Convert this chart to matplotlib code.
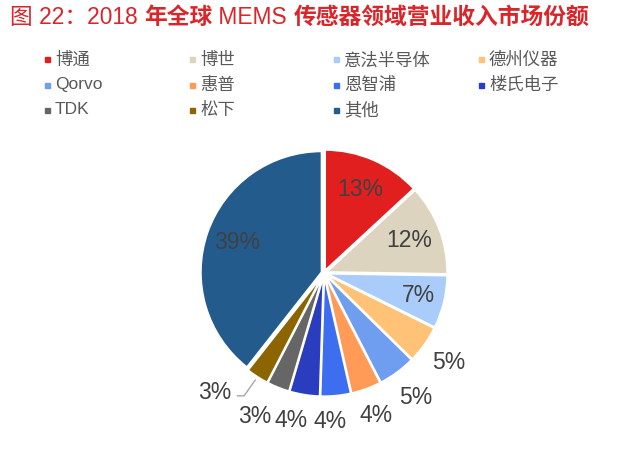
import numpy as np
import matplotlib.pyplot as plt
from matplotlib.patches import Rectangle

plt.rcParams['font.family'] = ['Liberation Sans', 'Noto Sans CJK SC', 'DejaVu Sans']

# data
companies = ['博通', '博世', '意法半导体', '德州仪器', 'Qorvo', '惠普',
             '恩智浦', '楼氏电子', 'TDK', '松下', '其他']
shares = [13, 12, 7, 5, 5, 4, 4, 4, 3, 3, 39]
colors = ['#E21F1F', '#DDD4BF', '#A9CCFA', '#FFC276', '#6F9DF0', '#FF9A57',
          '#3D6EF0', '#2A3DBE', '#666666', '#8C6500', '#245B8D']

# title runs: Latin parts regular, Chinese parts bold
title_parts = [('图 22：2018 ', 'normal'), ('年全球', 'bold'), (' MEMS ', 'normal'),
               ('传感器领域营业收入市场份额', 'bold')]

# label placement per slice (inside for big ones, outside for small ones)
label_r = [0.75, 0.75, 0.80, 1.27, 1.28, 1.25, 1.23, 1.25, 1.32, 1.40, 0.76]
label_da = [0, 0, 0, 0, 0, 0, -3, -3.5, -4, 0, 0]

fig = plt.figure(figsize=(6.4, 4.57), dpi=100)
W, H = 640, 457

# legend, laid out as a 4-column grid
col_x = [47, 192, 336, 481]
row_y = [60, 85, 110]
for i, (name, c) in enumerate(zip(companies, colors)):
    lx = col_x[i % 4]
    ly = row_y[i // 4]
    fig.patches.append(Rectangle(((lx - 2.5) / W, 1 - (ly + 2.5) / H), 5 / W, 5 / H,
                                 transform=fig.transFigure, color=c, figure=fig))
    fig.text((lx + 8) / W, 1 - ly / H, name, color='#595959', fontsize=12.5,
             va='center', ha='left')

# pie
cx, cy, r = 324, 273, 121
ax = fig.add_axes([(cx - 1.5 * r) / W, (H - cy - 1.5 * r) / H, 3 * r / W, 3 * r / H])

wedges, _ = ax.pie(shares, colors=colors, startangle=90, counterclock=False,
                   explode=[0.02] * len(shares),
                   wedgeprops=dict(edgecolor='white', linewidth=1.5))
ax.set_xlim(-1.5, 1.5)
ax.set_ylim(-1.5, 1.5)
ax.set_aspect('equal')
ax.axis('off')

for i, w in enumerate(wedges):
    mid = np.deg2rad((w.theta1 + w.theta2) / 2 + label_da[i])
    lr = label_r[i]
    x, y = lr * np.cos(mid), lr * np.sin(mid)
    txt = f'{shares[i]}%'
    if companies[i] == '松下':
        ex, ey = 1.05 * np.cos(mid), 1.05 * np.sin(mid)
        ax.annotate(txt, xy=(ex, ey), xytext=(-17, -9), textcoords='offset points',
                    fontsize=16.5, color='#404040', ha='right', va='center',
                    arrowprops=dict(arrowstyle='-', color='#A6A6A6', lw=1,
                                    shrinkA=2, shrinkB=0, relpos=(1, 0.35),
                                    connectionstyle='angle,angleA=0,angleB=55,rad=0'))
    else:
        ax.text(x, y, txt, fontsize=16.5, color='#404040', ha='center', va='center')

# title, drawn run by run
prev = None
for part, weight in title_parts:
    if prev is None:
        prev = fig.text(10 / W, 1 - 17 / H, part, color='#D9262A', fontsize=16.4,
                        fontweight=weight, va='center', ha='left')
    else:
        prev = ax.annotate(part, xy=(1, 0.5), xycoords=prev, color='#D9262A',
                           fontsize=16.4, fontweight=weight, va='center', ha='left',
                           annotation_clip=False)

fig.savefig('out.png', dpi=100)
